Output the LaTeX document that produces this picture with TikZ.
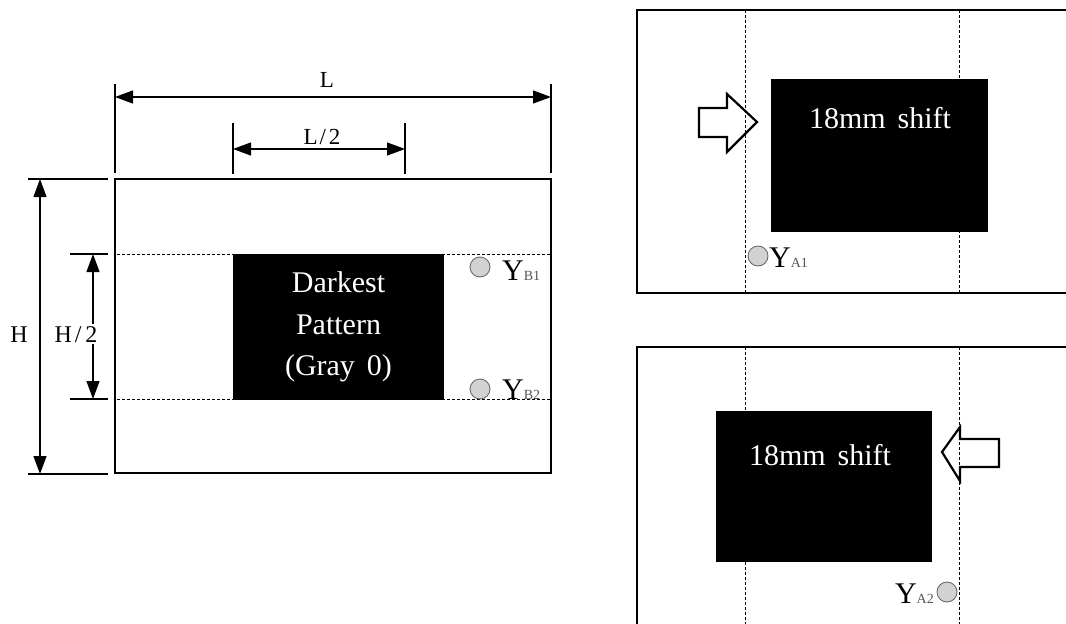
\documentclass[tikz,border=0pt]{standalone}
\usepackage{fontspec}
\setmainfont{Liberation Serif}
\usetikzlibrary{arrows.meta}
\definecolor{subgray}{HTML}{555555}
\definecolor{dotfill}{HTML}{D2D2D2}
\definecolor{dotedge}{HTML}{6A6A6A}
\newcommand{\fsz}[1]{\fontsize{#1pt}{#1pt}\selectfont}
\tikzset{
  frame/.style={line width=2.6pt, line join=miter},
  dimline/.style={line width=1.2pt, {Triangle[length=18pt,width=13pt]}-{Triangle[length=18pt,width=13pt]}},
  extline/.style={line width=1.2pt},
  guide/.style={line width=0.9pt, dash pattern=on 3pt off 2pt},
  blackbox/.style={fill=black, draw=none},
  boxtext/.style={text=white, inner sep=0pt},
  dimlabel/.style={inner sep=1pt},
  probe/.style={circle, draw=dotedge, fill=dotfill, line width=0.9pt, minimum size=20pt, inner sep=0pt},
  ylabel/.style={inner sep=0pt},
  blockarrow/.style={draw=black, fill=white, line width=2.2pt, line join=miter},
}
\begin{document}
\begin{tikzpicture}[x=1pt, y=-1pt]
\useasboundingbox (0,0) rectangle (1066,624);
\clip (0,0) rectangle (1066,624);

% ---------- left diagram ----------
\coordinate (LTL) at (115,179);
\coordinate (LBR) at (551,473);
% dimension L
\coordinate (Lext1a) at (115,84);  \coordinate (Lext1b) at (115,173);
\coordinate (Lext2a) at (551,84);  \coordinate (Lext2b) at (551,173);
\draw[extline] (Lext1a) -- (Lext1b);
\draw[extline] (Lext2a) -- (Lext2b);
\coordinate (La) at (115,97); \coordinate (Lb) at (551,97);
\draw[dimline] (La) -- (Lb);
\node[dimlabel, anchor=base] (Ltxt) at (327,87) {\fsz{23}L};
% dimension L/2
\coordinate (Hext1a) at (233,123); \coordinate (Hext1b) at (233,174);
\coordinate (Hext2a) at (405,123); \coordinate (Hext2b) at (405,174);
\draw[extline] (Hext1a) -- (Hext1b);
\draw[extline] (Hext2a) -- (Hext2b);
\coordinate (L2a) at (233,149); \coordinate (L2b) at (405,149);
\draw[dimline] (L2a) -- (L2b);
\node[dimlabel, anchor=base] (L2txt) at (322,144) {\fsz{23}L\kern2pt/\kern3pt2};
% dimension H
\coordinate (Htop1) at (28,179); \coordinate (Htop2) at (108,179);
\coordinate (Hbot1) at (28,474); \coordinate (Hbot2) at (108,474);
\draw[extline] (Htop1) -- (Htop2);
\draw[extline] (Hbot1) -- (Hbot2);
\coordinate (Ha) at (40,179); \coordinate (Hb) at (40,474);
\draw[dimline] (Ha) -- (Hb);
\node[dimlabel, anchor=base] (Htxt) at (19,342) {\fsz{24}H};
% dimension H/2
\coordinate (H2top1) at (70,254); \coordinate (H2top2) at (108,254);
\coordinate (H2bot1) at (70,399); \coordinate (H2bot2) at (108,399);
\draw[extline] (H2top1) -- (H2top2);
\draw[extline] (H2bot1) -- (H2bot2);
\coordinate (H2a) at (93,254); \coordinate (H2b) at (93,399);
\draw[dimline] (H2a) -- (H2b);
\node[dimlabel, fill=white, inner sep=2pt, anchor=base] (H2txt) at (76,342) {\fsz{24}H\kern3pt/\kern4pt2};

% dashed guides
\coordinate (G1a) at (117,254); \coordinate (G1b) at (551,254);
\coordinate (G2a) at (117,399); \coordinate (G2b) at (551,399);
\draw[guide] (G1a) -- (G1b);
\draw[guide] (G2a) -- (G2b);

% black pattern
\fill[blackbox] (233,254) rectangle (444,400);
\node[boxtext, anchor=base] (t1) at (338.5,292) {\fsz{30}Darkest};
\node[boxtext, anchor=base] (t2) at (338.5,334) {\fsz{30}Pattern};
\node[boxtext, anchor=base] (t3) at (338.5,375) {\fsz{30}(Gray\hspace{0.4em}0)};

% outer frame
\draw[frame] (LTL) rectangle (LBR);

% probes
\node[probe] (pB1) at (480,267) {};
\node[probe] (pB2) at (480,389) {};
\node[ylabel, anchor=base west] (yB1) at (502,280) {\fsz{30}Y{\fsz{14}\color{subgray}B1}};
\node[ylabel, anchor=base west] (yB2) at (502,399) {\fsz{30}Y{\fsz{14}\color{subgray}B2}};

% ---------- right top panel ----------
\fill[blackbox] (771,79) rectangle (988,232);
\node[boxtext, anchor=base] (s1) at (880,128) {\fsz{30}18mm\hspace{0.4em}shift};
\draw[blockarrow] (699,108) -- (727,108) -- (727,94) -- (757,122) -- (727,152) -- (727,137) -- (699,137) -- cycle;
\coordinate (V1a) at (745,10); \coordinate (V1b) at (745,293);
\coordinate (V2a) at (959,10); \coordinate (V2b) at (959,293);
\draw[guide] (V1a) -- (V1b);
\draw[guide] (V2a) -- (V2b);
\node[probe] (pA1) at (758,256) {};
\node[ylabel, anchor=base west] (yA1) at (769,267) {\fsz{30}Y{\fsz{14}\color{subgray}A1}};
\draw[frame] (1075,10) -- (637,10) -- (637,293) -- (1075,293);

% ---------- right bottom panel ----------
\fill[blackbox] (716,411) rectangle (932,562);
\node[boxtext, anchor=base] (s2) at (820,465) {\fsz{30}18mm\hspace{0.4em}shift};
\draw[blockarrow] (999,439) -- (960,439) -- (960,427) -- (942,452) -- (960,481) -- (960,467) -- (999,467) -- cycle;
\coordinate (V3a) at (745,347); \coordinate (V3b) at (745,630);
\coordinate (V4a) at (959,347); \coordinate (V4b) at (959,630);
\draw[guide] (V3a) -- (V3b);
\draw[guide] (V4a) -- (V4b);
\node[probe] (pA2) at (947,592) {};
\node[ylabel, anchor=base east] (yA2) at (934,603) {\fsz{30}Y{\fsz{14}\color{subgray}A2}};
\draw[frame] (1075,347) -- (637,347) -- (637,630);
\end{tikzpicture}
\end{document}
